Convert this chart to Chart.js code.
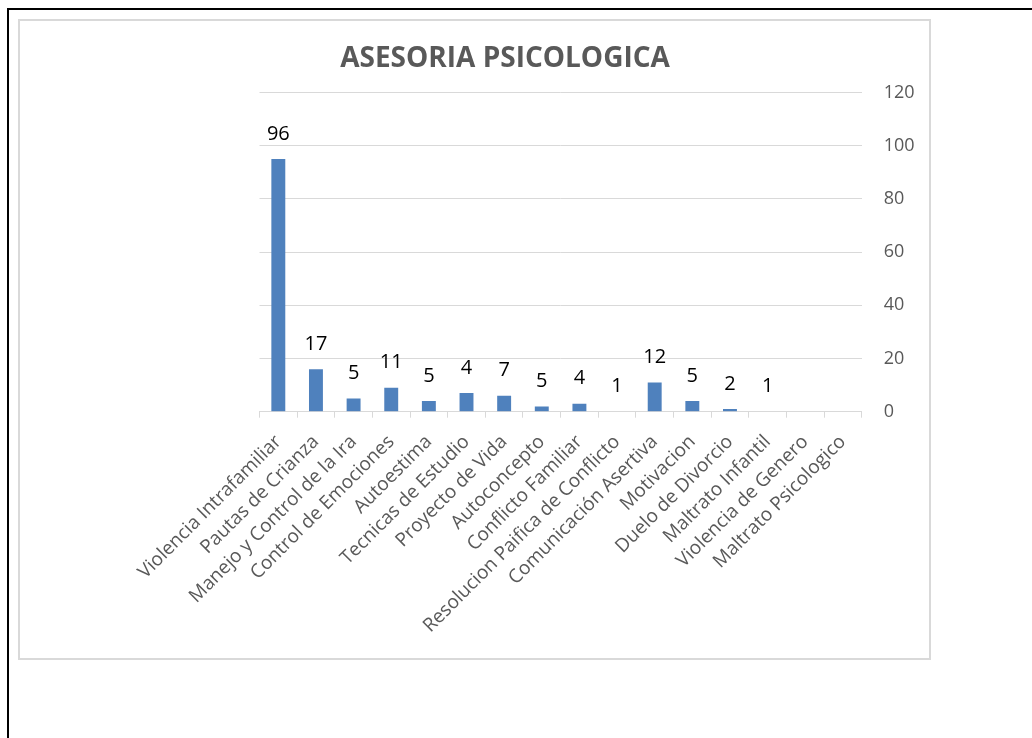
<!DOCTYPE html>
<html>
<head>
<meta charset="utf-8">
<script src="https://cdn.jsdelivr.net/npm/chart.js@4/dist/chart.umd.min.js"></script>
<style>
	body { margin: 0; background: #fff; overflow: hidden; }
	.frame { position: absolute; left: 7px; top: 8px; width: 2000px; height: 2000px; border-left: 2px solid #000; border-top: 2px solid #000; }
	.box { position: absolute; left: 18px; top: 19px; width: 913px; height: 641px; border: 2px solid #d9d9d9; box-sizing: border-box; }
	#chart { position: absolute; left: 20px; top: 21px; }
</style>
</head>
<body>
<div class="frame"></div>
<div class="box"></div>
<canvas id="chart" width="909" height="637"></canvas>
<script>
// categorias y valores
const categorias = [
	'Violencia Intrafamiliar', 'Pautas de Crianza', 'Manejo y Control de la Ira',
	'Control de Emociones', 'Autoestima', 'Tecnicas de Estudio', 'Proyecto de Vida',
	'Autoconcepto', 'Conflicto Familiar', 'Resolucion Paifica de Conflicto',
	'Comunicación Asertiva', 'Motivacion', 'Duelo de Divorcio', 'Maltrato Infantil',
	'Violencia de Genero', 'Maltrato Psicologico'
];
// altura de las barras
const valores = [95, 16, 5, 9, 4, 7, 6, 2, 3, 0, 11, 4, 1, 0, 0, 0];
// texto de las etiquetas (no coincide con la barra en el original)
const etiquetas = ['96', '17', '5', '11', '5', '4', '7', '5', '4', '1', '12', '5', '2', '1', '', ''];
const ticksY = [0, 20, 40, 60, 80, 100, 120];

const titulo = 'ASESORIA PSICOLOGICA';
const gris = '#595959';

const etiquetasPlugin = {
	id: 'etiquetas',
	afterDatasetsDraw(chart) {
		const ctx = chart.ctx;
		const meta = chart.getDatasetMeta(0);
		ctx.save();
		ctx.font = '20px "Open Sans"';
		ctx.fillStyle = '#000';
		ctx.textAlign = 'center';
		ctx.textBaseline = 'middle';
		meta.data.forEach((bar, i) => {
			if (etiquetas[i]) ctx.fillText(etiquetas[i], bar.x, bar.y - 25);
		});
		ctx.restore();
	}
};

const tituloPlugin = {
	id: 'tituloTexto',
	afterDraw(chart) {
		const ctx = chart.ctx;
		ctx.save();
		ctx.font = 'bold 28px "Open Sans"';
		ctx.fillStyle = gris;
		ctx.textAlign = 'center';
		ctx.textBaseline = 'alphabetic';
		ctx.fillText(titulo, 485, 46);
		ctx.restore();
	}
};

new Chart(document.getElementById('chart'), {
	type: 'bar',
	data: {
		labels: categorias,
		datasets: [{
			data: valores,
			backgroundColor: '#4f81bd',
			barPercentage: 0.37,
			categoryPercentage: 1
		}]
	},
	options: {
		responsive: false,
		animation: false,
		layout: { padding: { left: 239.5, top: 71.5, right: 7.3, bottom: 0 } },
		plugins: {
			legend: { display: false },
			tooltip: { enabled: false },
			title: { display: false }
		},
		scales: {
			x: {
				afterFit: (s) => { s.height = 246.3; },
				grid: { drawOnChartArea: false, drawTicks: true, tickLength: 6, color: '#d9d9d9' },
				border: { color: '#d9d9d9', width: 1 },
				ticks: {
					autoSkip: false, minRotation: 45, maxRotation: 45,
					color: gris, font: { family: 'Open Sans', size: 19 }, padding: 13
				}
			},
			y: {
				position: 'right',
				min: 0, max: 120,
				afterFit: (s) => { s.width = 60; },
				afterBuildTicks: (s) => { s.ticks = ticksY.map(v => ({ value: v })); },
				grid: { color: '#d9d9d9', drawTicks: false },
				border: { display: false },
				ticks: { color: gris, font: { family: 'Open Sans', size: 18 }, padding: 22 }
			}
		}
	},
	plugins: [etiquetasPlugin, tituloPlugin]
});
</script>
</body>
</html>
